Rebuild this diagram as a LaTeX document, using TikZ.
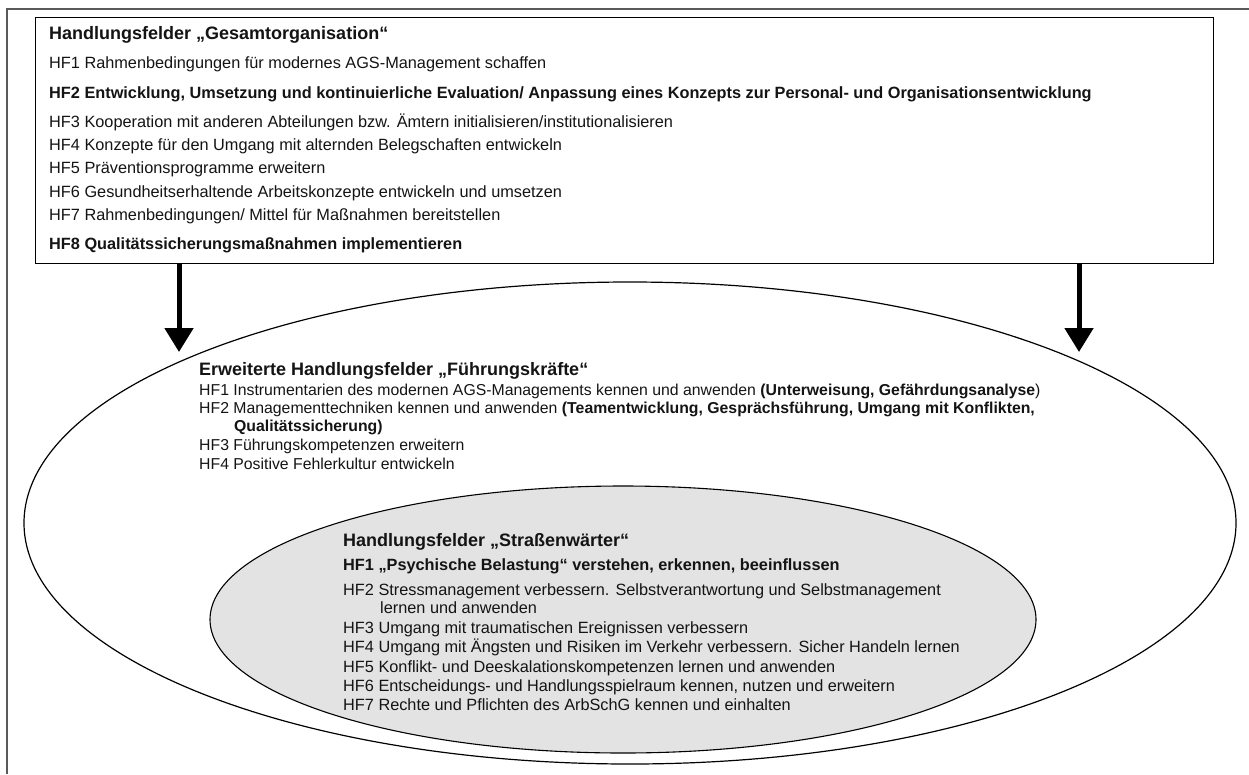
\documentclass[tikz,border=0pt]{standalone}
\usepackage{fontspec}
\setmainfont{Liberation Sans}
\usetikzlibrary{arrows.meta,shapes.geometric}
\begin{document}
\begin{tikzpicture}[x=1pt,y=-1pt,
  txt/.style={anchor=base west,inner sep=0pt,text=black!92,
    font=\fontsize{16.3}{19}\selectfont},
  strong/.style={txt,font=\fontsize{16.3}{19}\selectfont\bfseries},
  head/.style={txt,font=\fontsize{18}{21}\selectfont\bfseries},
  midtxt/.style={txt,font=\fontsize{15.8}{19}\selectfont},
  midstrong/.style={txt,font=\fontsize{15.8}{19}\selectfont\bfseries},
  frameline/.style={draw=black!65,line width=2pt},
  push/.style={line width=5pt,-{Triangle[width=28pt,length=24pt]}}]
\useasboundingbox (0,0) rectangle (1249,774);

% page frame (top and left edge)
\draw[frameline] (7,774) -- (7,9) -- (1249,9);

% nested fields of action
\node[ellipse,draw,line width=1.2pt,minimum width=1212pt,minimum height=482pt,inner sep=0pt] (fk) at (630,523) {};
\node[ellipse,draw,fill=black!11,line width=1.1pt,minimum width=826pt,minimum height=267pt,inner sep=0pt] (sw) at (623,619.5) {};

% organisation box
\node[draw,line width=1.4pt,fill=white,minimum width=1178pt,minimum height=246pt,inner sep=0pt,anchor=north west] (orga) at (35,17) {};

\node[head]   (o0) at (49,39)  {Handlungsfelder „Gesamtorganisation“};
\node[txt]    (o1) at (49,68)  {HF1 Rahmenbedingungen für modernes AGS-Management schaffen};
\node[strong] (o2) at (49,98)  {HF2 Entwicklung, Umsetzung und kontinuierliche Evaluation/ Anpassung eines Konzepts zur Personal- und Organisationsentwicklung};
\node[txt]    (o3) at (49,127) {HF3 Kooperation mit anderen Abteilungen bzw. Ämtern initialisieren/institutionalisieren};
\node[txt]    (o4) at (49,150) {HF4 Konzepte für den Umgang mit alternden Belegschaften entwickeln};
\node[txt]    (o5) at (49,173) {HF5 Präventionsprogramme erweitern};
\node[txt]    (o6) at (49,197) {HF6 Gesundheitserhaltende Arbeitskonzepte entwickeln und umsetzen};
\node[txt]    (o7) at (49,220) {HF7 Rahmenbedingungen/ Mittel für Maßnahmen bereitstellen};
\node[strong] (o8) at (49,249) {HF8 Qualitätssicherungsmaßnahmen implementieren};

% arrows from the organisation box into the leadership field
\coordinate (tipL) at (179,352);
\coordinate (tipR) at (1079,352);
\draw[push] (orga.south -| tipL) -- (tipL);
\draw[push] (orga.south -| tipR) -- (tipR);

% leadership field
\node[head]    (f0) at (199,375) {Erweiterte Handlungsfelder „Führungskräfte“};
\node[midtxt]  (f1) at (199,395) {HF1 Instrumentarien des modernen AGS-Managements kennen und anwenden \textbf{(Unterweisung, Gefährdungsanalyse})};
\node[midtxt]  (f2) at (199,413) {HF2 Managementtechniken kennen und anwenden \textbf{(Teamentwicklung, Gesprächsführung, Umgang mit Konflikten,}};
\node[midstrong] (f2b) at (234,431) {Qualitätssicherung)};
\node[midtxt]  (f3) at (199,450) {HF3 Führungskompetenzen erweitern};
\node[midtxt]  (f4) at (199,469) {HF4 Positive Fehlerkultur entwickeln};

% road worker field
\node[head]   (s0) at (343,546) {Handlungsfelder „Straßenwärter“};
\node[strong] (s1) at (343,570) {HF1 „Psychische Belastung“ verstehen, erkennen, beeinflussen};
\node[txt]    (s2) at (343,595) {HF2 Stressmanagement verbessern. Selbstverantwortung und Selbstmanagement};
\node[txt]    (s2b) at (380,613) {lernen und anwenden};
\node[txt]    (s3) at (343,633) {HF3 Umgang mit traumatischen Ereignissen verbessern};
\node[txt]    (s4) at (343,652) {HF4 Umgang mit Ängsten und Risiken im Verkehr verbessern. Sicher Handeln lernen};
\node[txt]    (s5) at (343,672) {HF5 Konflikt- und Deeskalationskompetenzen lernen und anwenden};
\node[txt]    (s6) at (343,691) {HF6 Entscheidungs- und Handlungsspielraum kennen, nutzen und erweitern};
\node[txt]    (s7) at (343,710) {HF7 Rechte und Pflichten des ArbSchG kennen und einhalten};
\end{tikzpicture}
\end{document}
